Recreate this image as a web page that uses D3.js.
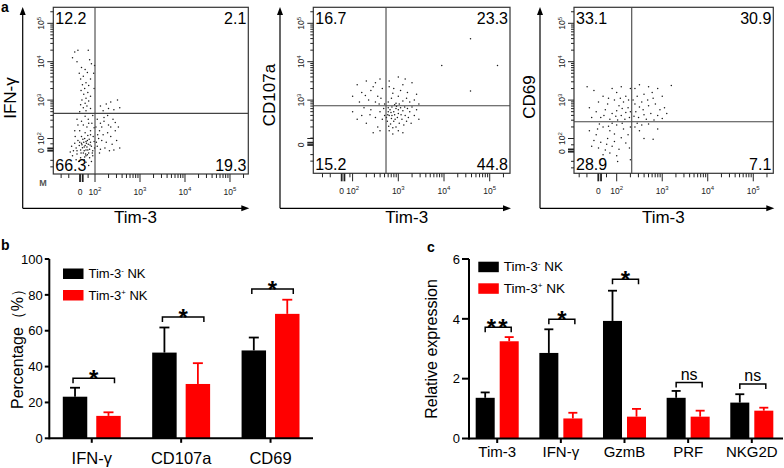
<!DOCTYPE html>
<html><head><meta charset="utf-8">
<script src="https://cdn.jsdelivr.net/npm/d3@7"></script>
<style>body{margin:0;background:#fff}svg{display:block}text{font-family:"Liberation Sans",Arial,Helvetica,sans-serif}</style>
</head><body><svg id="chart" width="784" height="468"></svg>
<script>
// ================= DATA =================
// Panel a: flow cytometry (values in display-decade units: 2 = 10^2, 3 = 10^3 ...)
const flowYLabels = ["IFN-γ", "CD107a", "CD69"];
const flowXLabel = "Tim-3";
const decadeTicks = [2, 3, 4, 5];
const quadIFN = [12.2, 2.1, 66.3, 19.3];     // UL, UR, LL, LR
const quadCD107a = [16.7, 23.3, 15.2, 44.8];
const quadCD69 = [33.1, 30.9, 28.9, 7.1];
const gateIFN = [2.0, 2.656];
const gateCD107a = [2.731, 2.854];
const gateCD69 = [2.33, 2.4375];
const pointsIFN = [
[1.55,4.25],[1.62,4.3],[1.85,4.3],[1.5,4.1],[1.88,4.05],[1.6,4.0],[1.92,3.95],[1.7,3.85],[1.78,3.8],[1.65,3.7],[1.83,3.72],[1.74,3.62],[1.68,3.55],[1.9,3.55],[1.8,3.45],[1.72,3.4],[1.86,3.38],[1.77,3.3],[1.69,3.25],[1.84,3.2],[1.75,3.15],[1.9,3.1],[1.8,3.05],[1.71,3.0],[1.86,2.98],[1.78,2.92],[1.68,2.88],[1.82,2.85],[1.74,2.8],[1.9,2.78],[1.8,2.72],[1.66,2.7],[1.97,3.7],[1.98,3.3],[1.99,3.9],
[2.12,2.85],[2.25,2.9],[2.35,2.95],[2.5,3.0],[2.42,2.75],[2.55,2.8],[2.3,2.78],[2.18,2.72],
[2.05,2.5],[2.12,2.4],[2.2,2.45],[2.3,2.35],[2.4,2.5],[2.1,2.2],[2.18,2.1],[2.28,2.15],[2.35,2.05],[2.45,2.2],[2.52,2.3],[2.08,2.0],[2.15,1.95],[2.25,1.9],[2.38,1.85],[2.48,1.95],[2.05,1.8],[2.12,1.72],[2.22,1.75],[2.32,1.68],[2.02,2.3],[2.06,2.1],[2.15,2.3],[2.42,1.7],[2.55,1.75],[2.2,2.55],[2.28,2.6],[2.1,1.62],[2.03,1.9],[2.35,2.3],[2.45,2.42],
[1.78,1.82],[1.82,1.78],[1.75,1.9],[1.85,1.85],[1.8,1.7],[1.72,1.76],[1.88,1.72],[1.7,1.88],[1.83,1.95],[1.77,2.0],[1.9,1.9],[1.68,1.7],[1.86,1.62],[1.74,1.62],[1.8,1.55],[1.92,1.8],[1.65,1.82],[1.95,1.68],[1.7,2.05],[1.84,2.08],[1.78,2.15],[1.62,1.95],[1.58,1.75],[1.6,1.6],[1.68,1.5],[1.76,1.45],[1.88,1.5],[1.95,1.55],[1.55,1.88],[1.52,1.68],[1.66,2.2],[1.9,2.2],[1.82,2.3],[1.74,2.35],[1.96,2.05],[1.98,1.92],[1.64,1.4],[1.8,1.38],[1.92,1.4],[1.5,1.55],[1.48,1.8],[1.56,2.05],[1.7,2.45],[1.85,2.5],[1.78,2.58],[1.93,2.4],[1.62,2.35],[1.45,1.65],[1.58,1.45],[1.72,1.32],[1.86,1.3],[1.99,1.75],[1.76,1.68],[1.81,1.88],[1.79,1.6],[1.73,1.98],[1.87,1.98],[1.69,1.62],[1.84,1.7],[1.76,1.78],[1.8,1.92],[1.71,1.84],[1.89,1.83],[1.83,1.58],[1.77,1.52],[1.94,1.62],[1.6,1.68],[1.66,1.9],[1.9,2.1],[1.98,2.28],[1.86,2.4],[1.55,2.2],[1.6,2.5],[1.95,2.6]
];
const pointsCD107a = [
[2.1,3.4],[2.3,3.5],[2.5,3.45],[2.6,3.55],[2.2,3.2],[2.4,3.25],[2.55,3.1],[2.65,3.3],[2.0,3.1],[2.35,3.0],[2.5,2.95],[2.62,3.05],[2.15,2.95],[2.7,2.9],[2.45,3.35],[2.28,3.12],[2.58,2.9],
[2.8,3.5],[3.0,3.6],[3.15,3.55],[2.9,3.3],[3.1,3.4],[3.3,3.45],[2.85,3.05],[3.0,3.1],[3.2,3.2],[3.4,3.15],[2.78,2.95],[2.95,2.92],[3.1,2.98],[3.25,2.95],[3.35,3.0],[2.88,3.18],[3.05,3.25],[3.45,2.9],[2.8,3.35],[3.18,3.05],[2.92,2.88],[3.02,2.9],[4.58,4.6],[3.95,3.9],[5.17,3.9],[4.58,3.24],
[2.0,2.7],[2.2,2.6],[2.4,2.75],[2.5,2.55],[2.6,2.7],[2.3,2.4],[2.55,2.3],[2.65,2.5],[2.1,2.5],[2.45,2.15],[2.68,2.78],[2.38,2.62],[2.6,2.2],[2.25,2.8],[2.7,2.6],
[2.78,2.8],[2.82,2.75],[2.86,2.82],[2.9,2.7],[2.95,2.78],[3.0,2.65],[3.05,2.8],[3.1,2.72],[3.15,2.6],[3.2,2.78],[3.25,2.7],[3.3,2.82],[2.8,2.6],[2.85,2.52],[2.9,2.45],[2.98,2.55],[3.02,2.4],[3.08,2.5],[3.12,2.35],[3.18,2.45],[2.76,2.45],[2.83,2.38],[2.88,2.28],[2.95,2.3],[3.0,2.2],[2.8,2.2],[3.35,2.6],[3.4,2.75],[3.45,2.5],[2.92,2.62],[2.84,2.68],[2.78,2.7],[3.06,2.62],[2.96,2.84],[2.74,2.55],[3.22,2.55],[2.88,2.12],[3.1,2.15],[2.79,2.32],[3.28,2.4],[2.93,2.5],[3.14,2.82],[2.77,2.62],[3.0,2.75],[2.86,2.6]
];
const pointsCD69 = [
[1.5,3.25],[1.7,3.1],[1.9,3.3],[2.0,3.2],[2.1,3.35],[2.2,3.1],[2.3,3.3],[1.6,2.95],[1.8,2.9],[1.95,3.0],[2.05,2.85],[2.15,2.95],[2.25,2.8],[1.4,2.8],[1.55,2.7],[1.75,2.75],[1.9,2.65],[2.0,2.72],[2.1,2.6],[2.2,2.68],[2.28,2.55],[1.65,2.55],[1.85,2.5],[2.02,2.48],[2.18,2.5],[1.45,2.55],[1.72,2.6],[2.12,2.78],[2.26,3.0],[1.98,2.58],[2.08,3.05],[1.82,3.05],[2.3,2.7],[1.35,3.35],
[2.4,3.3],[2.5,3.4],[2.7,3.35],[2.9,3.3],[3.2,3.38],[2.45,3.1],[2.6,3.15],[2.8,3.05],[3.0,3.1],[2.4,2.9],[2.55,2.95],[2.7,2.85],[2.85,2.9],[3.05,2.8],[2.42,2.7],[2.58,2.75],[2.75,2.65],[2.9,2.6],[2.48,2.55],[2.65,2.5],[2.82,2.48],[3.0,2.52],[2.38,2.58],[2.6,2.62],[2.5,2.82],[2.68,3.0],[2.95,2.75],[3.1,2.65],[2.36,3.0],[2.78,3.2],
[1.4,2.2],[1.55,2.1],[1.7,2.3],[1.85,2.2],[2.0,2.35],[2.15,2.25],[2.25,2.1],[1.5,1.95],[1.65,1.9],[1.8,2.0],[1.95,1.92],[2.1,2.02],[2.2,1.88],[1.6,1.75],[1.75,1.7],[1.9,1.8],[2.05,1.72],[1.7,1.58],[1.85,1.62],[2.0,1.55],[1.45,1.8],[2.3,2.3],[1.62,2.38],[1.9,2.4],[2.12,2.4],[1.78,1.85],[1.95,2.12],[1.82,2.32],[2.28,1.75],[1.58,2.25],[2.3,1.45],[2.02,1.4],
[2.4,2.3],[2.55,2.35],[2.5,2.2],[2.7,2.38],[2.6,2.0],[2.9,2.25],[2.45,2.4],[2.8,1.98]
];

// Panel b
const bCategories = ["IFN-γ", "CD107a", "CD69"];
const seriesNames = ["Tim-3", "Tim-3"];
const seriesSigns = ["-", "+"];
const bNeg = [23.2, 47.8, 49.0];
const bNegSD = [5.0, 14.0, 7.2];
const bPos = [12.5, 30.3, 69.4];
const bPosSD = [2.0, 11.6, 7.9];
const bTicks = [0, 20, 40, 60, 80, 100];
const bSig = ["*", "*", "*"];

// Panel c
const cCategories = ["Tim-3", "IFN-γ", "GzmB", "PRF", "NKG2D"];
const cNeg = [1.36, 2.86, 3.93, 1.36, 1.2];
const cNegSD = [0.18, 0.79, 1.01, 0.23, 0.28];
const cPos = [3.25, 0.67, 0.73, 0.73, 0.93];
const cPosSD = [0.14, 0.19, 0.26, 0.2, 0.1];
const cTicks = [0, 2, 4, 6];
const cSig = ["**", "*", "*", "ns", "ns"];

// ================= DRAWING =================
const svg = d3.select("#chart");
const RED = "#ff0000";

function panelLetter(t, x, y) {
  svg.append("text").attr("x", x).attr("y", y).attr("font-size", 14).attr("font-weight", "bold").text(t);
}

function arrowHead(g, x, y, dir) {
  const p = dir === "up" ? [[x, y], [x - 3, y + 8], [x + 3, y + 8]] : [[x, y], [x - 8, y - 3], [x - 8, y + 3]];
  g.append("path").attr("d", "M" + p.map(q => q.join(",")).join("L") + "Z").attr("fill", "#000");
}

function drawFlow(cfg) {
  const g = svg.append("g");
  const [bx0, by0, bx1, by1] = cfg.box;
  const x = d3.scaleLinear().domain(cfg.xDom).range([bx0, bx1]);
  const y = d3.scaleLinear().domain(cfg.yDom).range([by1, by0]);

  // outer axes with arrows
  g.append("line").attr("x1", cfg.axisX).attr("x2", cfg.axisX).attr("y1", cfg.axisY).attr("y2", 14).attr("stroke", "#000").attr("stroke-width", 1.2);
  g.append("line").attr("x1", cfg.axisX).attr("x2", bx1 - 6).attr("y1", cfg.axisY).attr("y2", cfg.axisY).attr("stroke", "#000").attr("stroke-width", 1.2);
  arrowHead(g, cfg.axisX, 7, "up");
  arrowHead(g, bx1 + 1, cfg.axisY, "right");

  // points
  g.selectAll("circle.pt").data(cfg.points).join("circle")
    .attr("cx", d => x(d[0])).attr("cy", d => y(d[1])).attr("r", 0.75).attr("fill", "#1a1a1a");

  // box and gates
  g.append("rect").attr("x", bx0).attr("y", by0).attr("width", bx1 - bx0).attr("height", by1 - by0)
    .attr("fill", "none").attr("stroke", "#333").attr("stroke-width", 1.2);
  g.append("line").attr("x1", x(cfg.gate[0])).attr("x2", x(cfg.gate[0])).attr("y1", by0).attr("y2", by1).attr("stroke", "#444").attr("stroke-width", 1.1);
  g.append("line").attr("x1", bx0).attr("x2", bx1).attr("y1", y(cfg.gate[1])).attr("y2", y(cfg.gate[1])).attr("stroke", "#444").attr("stroke-width", 1.1);

  // ticks
  function tickSet(dom, zero) {
    const t = [];
    decadeTicks.forEach(n => {
      t.push({v: n, len: 8, w: 1});
      for (let k = 2; k <= 9; k++) t.push({v: n + Math.log10(k), len: 4, w: 1});
    });
    t.push({v: zero, len: 8, w: 1.8});
    t.push({v: zero + 0.06, len: 8, w: 1.8});
    [-0.42, -0.25, 0.18].forEach(o => t.push({v: zero + o, len: 4, w: 1}));
    return t.filter(d => d.v > dom[0] + 0.02 && d.v < dom[1] - 0.02);
  }
  tickSet(cfg.xDom, cfg.xZero).forEach(d => {
    g.append("line").attr("x1", x(d.v)).attr("x2", x(d.v)).attr("y1", by1).attr("y2", by1 + d.len)
      .attr("stroke", "#222").attr("stroke-width", d.w);
  });
  tickSet(cfg.yDom, cfg.yZero).forEach(d => {
    g.append("line").attr("y1", y(d.v)).attr("y2", y(d.v)).attr("x1", bx0).attr("x2", bx0 - d.len * 0.75)
      .attr("stroke", "#222").attr("stroke-width", d.w);
  });

  // tick labels
  const fs = 8.5;
  function decLabel(sel, n) {
    sel.append("tspan").text("10");
    sel.append("tspan").attr("font-size", 6).attr("dy", -3.5).text(n);
  }
  cfg.xLabels.forEach(n => {
    const t = g.append("text").attr("x", x(n)).attr("y", by1 + 20.5).attr("font-size", fs).attr("text-anchor", "middle").attr("fill", "#222");
    decLabel(t, n);
  });
  g.append("text").attr("x", x(cfg.xZero)).attr("y", by1 + 20.5).attr("font-size", fs).attr("text-anchor", "middle").attr("fill", "#222").text("0");
  cfg.yLabels.forEach(n => {
    const t = g.append("text").attr("transform", `translate(${bx0 - 9},${y(n)}) rotate(-90)`).attr("font-size", fs).attr("text-anchor", "middle").attr("fill", "#222");
    decLabel(t, n);
  });
  g.append("text").attr("transform", `translate(${bx0 - 9},${y(cfg.yZero)}) rotate(-90)`).attr("font-size", fs).attr("text-anchor", "middle").attr("fill", "#222").text("0");

  // quadrant numbers
  const qf = 16;
  const q = cfg.quad;
  g.append("text").attr("x", bx0 + 2).attr("y", by0 + 16.5).attr("font-size", qf).text(q[0].toFixed(1));
  g.append("text").attr("x", bx1 - 2).attr("y", by0 + 16.5).attr("font-size", qf).attr("text-anchor", "end").text(q[1].toFixed(1));
  g.append("text").attr("x", bx0 + 2).attr("y", by1 - 3.5).attr("font-size", qf).text(q[2].toFixed(1));
  g.append("text").attr("x", bx1 - 2).attr("y", by1 - 3.5).attr("font-size", qf).attr("text-anchor", "end").text(q[3].toFixed(1));

  // axis titles
  g.append("text").attr("x", cfg.xTitleX).attr("y", 223).attr("font-size", 17).attr("text-anchor", "middle").text(flowXLabel);
  g.append("text").attr("transform", `translate(${cfg.yTitleX},${cfg.yTitleY}) rotate(-90)`).attr("dy", "0.35em")
    .attr("font-size", 17).attr("text-anchor", "middle").text(cfg.yTitle);
  return g;
}

panelLetter("a", 1, 12);
const g1 = drawFlow({box: [53.3, 7.3, 248.3, 174], xDom: [1.073, 5.407], yDom: [1.076, 5.417], xZero: 1.667, yZero: 1.682,
  gate: gateIFN, points: pointsIFN, quad: quadIFN, axisX: 22.7, axisY: 208.3, xLabels: [2, 3, 4, 5], yLabels: [2, 3, 4, 5],
  xTitleX: 135.5, yTitleX: 10, yTitleY: 98, yTitle: flowYLabels[0]});
g1.append("text").attr("x", 43).attr("y", 186).attr("font-size", 9).attr("font-weight", "bold").attr("fill", "#555").attr("text-anchor", "middle").text("M");
drawFlow({box: [313.3, 7.3, 510, 173.3], xDom: [1.14, 5.444], yDom: [1.094, 5.417], xZero: 1.761, yZero: 1.831,
  gate: gateCD107a, points: pointsCD107a, quad: quadCD107a, axisX: 280, axisY: 208.3, xLabels: [2, 3, 4, 5], yLabels: [3, 4, 5],
  xTitleX: 406.7, yTitleX: 269, yTitleY: 95, yTitle: flowYLabels[1]});
drawFlow({box: [574, 7.3, 773.3, 173.3], xDom: [1.062, 5.44], yDom: [1.094, 5.417], xZero: 1.596, yZero: 1.656,
  gate: gateCD69, points: pointsCD69, quad: quadCD69, axisX: 540, axisY: 208.3, xLabels: [2, 3, 4, 5], yLabels: [2, 3, 4, 5],
  xTitleX: 663.3, yTitleX: 529, yTitleY: 97, yTitle: flowYLabels[2]});

// ---------- bar charts ----------
function legendItem(g, x, y, color, sign, fs) {
  g.append("rect").attr("x", x).attr("y", y).attr("width", 20.5).attr("height", 10.5).attr("fill", color);
  const t = g.append("text").attr("x", x + 25.5).attr("y", y + 9.5).attr("font-size", fs);
  t.append("tspan").text(seriesNames[0]);
  t.append("tspan").attr("font-size", fs * 0.6).attr("dy", -5).text(sign);
  t.append("tspan").attr("dy", 5).text(" NK");
}

function drawBars(cfg) {
  const g = svg.append("g");
  const x = d3.scaleBand().domain(cfg.cats).range(cfg.xRange).paddingInner(cfg.pIn).paddingOuter(cfg.pOut);
  const sub = d3.scaleBand().domain([0, 1]).range([0, x.bandwidth()]).paddingInner(cfg.subPad);
  const y = d3.scaleLinear().domain([0, cfg.max]).range([cfg.y0, cfg.y1]);
  const rows = cfg.cats.map((c, i) => ({c, i, v: [cfg.neg[i], cfg.pos[i]], sd: [cfg.negSD[i], cfg.posSD[i]]}));
  const colors = ["#000", RED];

  rows.forEach(r => {
    [0, 1].forEach(s => {
      const bx = x(r.c) + sub(s), bw = sub.bandwidth(), cx = bx + bw / 2;
      const top = y(r.v[s] + r.sd[s]);
      g.append("line").attr("x1", cx).attr("x2", cx).attr("y1", y(r.v[s])).attr("y2", top).attr("stroke", colors[s]).attr("stroke-width", 1.8);
      g.append("line").attr("x1", cx - cfg.cap).attr("x2", cx + cfg.cap).attr("y1", top).attr("y2", top).attr("stroke", colors[s]).attr("stroke-width", 1.8);
      g.append("rect").attr("x", bx).attr("y", y(r.v[s])).attr("width", bw).attr("height", y(0) - y(r.v[s])).attr("fill", colors[s]);
    });
    // significance bracket
    const c0 = x(r.c) + sub(0) + sub.bandwidth() / 2 + cfg.brL;
    const c1 = x(r.c) + sub(1) + sub.bandwidth() / 2 + cfg.brR;
    const by = y(cfg.brH[r.i]);
    g.append("path").attr("d", `M${c0},${by + 5}V${by}H${c1}V${by + 5}`).attr("fill", "none").attr("stroke", "#000").attr("stroke-width", 1.5);
    const lab = cfg.sig[r.i];
    if (lab === "ns") {
      g.append("text").attr("x", (c0 + c1) / 2).attr("y", by - 3).attr("font-size", 16).attr("text-anchor", "middle").text(lab);
    } else {
      g.append("text").attr("x", (c0 + c1) / 2).attr("y", by + 9).attr("font-size", 24).attr("font-weight", "bold").attr("text-anchor", "middle")
        .attr("letter-spacing", lab.length > 1 ? 2 : 0).text(lab);
    }
  });

  // axes
  g.append("line").attr("x1", cfg.xRange[0]).attr("x2", cfg.axisEnd).attr("y1", y(0)).attr("y2", y(0)).attr("stroke", "#000").attr("stroke-width", 2);
  g.append("line").attr("x1", cfg.xRange[0]).attr("x2", cfg.xRange[0]).attr("y1", y(0) + 1).attr("y2", y(cfg.max)).attr("stroke", "#000").attr("stroke-width", 2);
  cfg.ticks.forEach(t => {
    g.append("line").attr("x1", cfg.xRange[0]).attr("x2", cfg.xRange[0] - cfg.tickLen).attr("y1", y(t)).attr("y2", y(t)).attr("stroke", "#000").attr("stroke-width", 2);
    g.append("text").attr("x", cfg.xRange[0] - cfg.tickLen - 2).attr("y", y(t)).attr("dy", "0.36em").attr("text-anchor", "end").attr("font-size", cfg.tickFs).text(t);
  });
  cfg.cats.forEach(c => {
    const cx = x(c) + x.bandwidth() / 2;
    g.append("line").attr("x1", cx).attr("x2", cx).attr("y1", y(0)).attr("y2", y(0) + 4.5).attr("stroke", "#000").attr("stroke-width", 2);
    g.append("text").attr("x", cx).attr("y", cfg.catY).attr("text-anchor", "middle").attr("font-size", cfg.catFs).text(c);
  });
  g.append("text").attr("transform", `translate(${cfg.titleX},${cfg.titleY}) rotate(-90)`).attr("dy", "0.35em")
    .attr("text-anchor", "middle").attr("font-size", 16).text(cfg.title);
  legendItem(g, cfg.legX, cfg.legY, "#000", seriesSigns[0], cfg.legFs);
  legendItem(g, cfg.legX, cfg.legY + cfg.legGap, RED, seriesSigns[1], cfg.legFs);
}

panelLetter("b", 1, 250);
drawBars({cats: bCategories, neg: bNeg, negSD: bNegSD, pos: bPos, posSD: bPosSD, sig: bSig, ticks: bTicks, max: 100,
  xRange: [49.3, 313], axisEnd: 313, pIn: 0.352, pOut: 0.151, subPad: 0.269, y0: 438.3, y1: 259, cap: 5,
  brH: [33.5, 67.6, 83.2], brL: -2, brR: 6, tickLen: 4.5, tickFs: 13, catY: 464, catFs: 16.5,
  title: "Percentage（%）", titleX: 17, titleY: 345, legX: 63, legY: 268.5, legGap: 21.5, legFs: 13});

panelLetter("c", 427, 252);
drawBars({cats: cCategories, neg: cNeg, negSD: cNegSD, pos: cPos, posSD: cPosSD, sig: cSig, ticks: cTicks, max: 6,
  xRange: [469, 780], axisEnd: 783, pIn: 0.324, pOut: 0.105, subPad: 0.208, y0: 438.5, y1: 259, cap: 4.5,
  brH: [3.72, 3.99, 5.32, 1.87, 1.82], brL: 0, brR: 2, tickLen: 7, tickFs: 13, catY: 457, catFs: 15,
  title: "Relative expression", titleX: 431, titleY: 349, legX: 478.3, legY: 261.7, legGap: 21.6, legFs: 13.5});
</script></body></html>
